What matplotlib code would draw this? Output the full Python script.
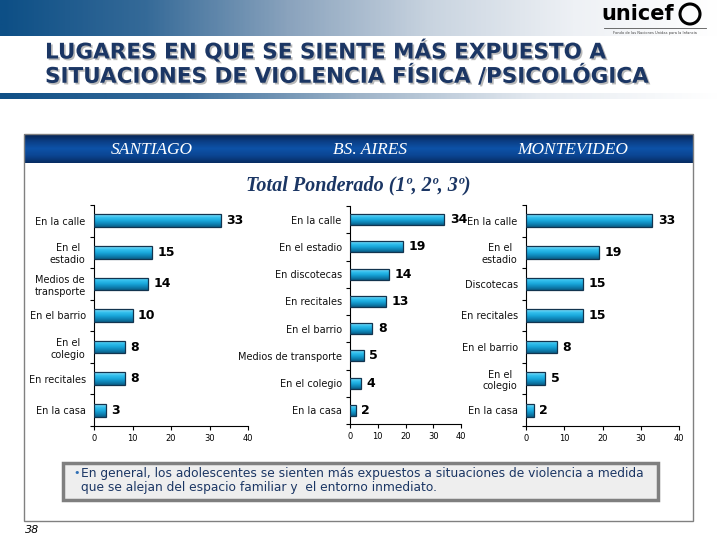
import numpy as np
import matplotlib
matplotlib.use("Agg")
import matplotlib.pyplot as plt
from matplotlib.colors import LinearSegmentedColormap
from matplotlib.patches import Rectangle, Circle
import matplotlib.patheffects as pe

W, H = 720, 540

santiago_labels = ["En la calle", "En el\nestadio", "Medios de\ntransporte", "En el barrio",
                   "En el\ncolegio", "En recitales", "En la casa"]
santiago_vals = [33, 15, 14, 10, 8, 8, 3]

bsas_labels = ["En la calle", "En el estadio", "En discotecas", "En recitales",
               "En el barrio", "Medios de transporte", "En el colegio", "En la casa"]
bsas_vals = [34, 19, 14, 13, 8, 5, 4, 2]

mvd_labels = ["En la calle", "En el\nestadio", "Discotecas", "En recitales",
              "En el barrio", "En el\ncolegio", "En la casa"]
mvd_vals = [33, 19, 15, 15, 8, 5, 2]

x_ticks = [0, 10, 20, 30, 40]

navy = "#1b3664"
fig = plt.figure(figsize=(7.2, 5.4), dpi=100)

# background layer in pixel coordinates
bg = fig.add_axes([0, 0, 1, 1])
bg.set_xlim(0, W)
bg.set_ylim(H, 0)
bg.axis("off")

band_cmap = LinearSegmentedColormap.from_list(
    "band", ["#0d4f86", "#356a98", "#8aa3bd", "#c9d4e0", "#eef1f5", "#ffffff"])
g = np.linspace(0, 1, 400).reshape(1, -1)
bg.imshow(g, extent=[0, W, 36, 0], cmap=band_cmap, aspect="auto")
line_cmap = LinearSegmentedColormap.from_list(
    "line", ["#0f4f86", "#3a6e9c", "#9fb4c9", "#e6ebf1", "#ffffff"])
bg.imshow(g, extent=[0, W, 99, 93], cmap=line_cmap, aspect="auto")

head_cmap = LinearSegmentedColormap.from_list(
    "head", ["#06224f", "#0b3f86", "#0d52a8", "#0b4592", "#072c62"])
bg.imshow(np.linspace(0, 1, 50).reshape(-1, 1), extent=[24, 693, 163, 134],
          cmap=head_cmap, aspect="auto")
bg.set_xlim(0, W)
bg.set_ylim(H, 0)

bg.add_patch(Rectangle((24, 134), 669, 387, fill=False, edgecolor="#808080", lw=1))
bg.add_patch(Rectangle((63, 463), 595, 37, facecolor="#eeeeee", edgecolor="#7f7f7f", lw=2.5))

# logo
bg.text(638, 14, "unicef", fontsize=15, fontweight="heavy", ha="center", va="center",
        color="black", family="DejaVu Sans")
bg.add_patch(Circle((690, 14), 10, fill=False, edgecolor="black", lw=2.2))
bg.plot([604, 706], [28, 28], color="#555555", lw=0.6)
bg.text(655, 33, "Fondo de las Naciones Unidas para la Infancia", fontsize=2.6,
        ha="center", va="center", color="#444444")

# title
shadow = [pe.withSimplePatchShadow(offset=(1.2, -1.2), shadow_rgbFace="#b8b8b8", alpha=1)]
for yy, t in [(51, "LUGARES EN QUE SE SIENTE MÁS EXPUESTO A"),
              (76, "SITUACIONES DE VIOLENCIA FÍSICA /PSICOLÓGICA")]:
    bg.text(45, yy, t, fontsize=15.5, fontweight="bold", color=navy, va="center",
            ha="left", path_effects=shadow)

for xx, t in [(152, "SANTIAGO"), (370, "BS. AIRES"), (573, "MONTEVIDEO")]:
    bg.text(xx, 150, t, fontsize=12.5, style="italic", color="white", ha="center",
            va="center", family="Liberation Serif")
bg.text(358, 185, "Total Ponderado (1º, 2º, 3º)", fontsize=14.5, style="italic",
        fontweight="bold", color=navy, ha="center", va="center", family="Liberation Serif")

bg.text(73, 473, "•", fontsize=8, color="#2f6fb5", ha="left", va="center")
bg.text(81, 473, "En general, los adolescentes se sienten más expuestos a situaciones de violencia a medida",
        fontsize=8.8, color=navy, ha="left", va="center", family="DejaVu Sans")
bg.text(81, 488, "que se alejan del espacio familiar y  el entorno inmediato.",
        fontsize=8.8, color=navy, ha="left", va="center", family="DejaVu Sans")
bg.text(25, 530, "38", fontsize=8, style="italic", color="black", ha="left", va="center")

bar_cmap = LinearSegmentedColormap.from_list(
    "bar", ["#8ee2fb", "#34c0ee", "#1aa9dc", "#0f86b8", "#0a5f88"])


def panel(x0, x1, ytop, ybot, labels, vals):
    ax = fig.add_axes([x0 / W, 1 - ybot / H, (x1 - x0) / W, (ybot - ytop) / H])
    ax.patch.set_alpha(0)
    n = len(vals)
    pos = np.arange(n)
    bars = ax.barh(pos, vals, height=0.4, color="#1aaee0", lw=0)
    for b in bars:
        im = ax.imshow(np.linspace(0, 1, 40).reshape(-1, 1),
                       extent=[b.get_x(), b.get_x() + b.get_width(),
                               b.get_y() + b.get_height(), b.get_y()],
                       cmap=bar_cmap, aspect="auto", zorder=3)
        im.set_clip_path(b)
    ax.barh(pos, vals, height=0.4, facecolor="none", edgecolor="#12344f", lw=0.9, zorder=4)
    for i, v in enumerate(vals):
        ax.annotate(str(v), (v, i), xytext=(4, 0), textcoords="offset points",
                    fontsize=9, fontweight="bold", va="center", ha="left", color="black")
    ax.set_xlim(0, 40)
    ax.set_ylim(n - 0.5, -0.5)
    ax.set_yticks(pos)
    ax.set_yticklabels(labels, fontsize=7, multialignment="center", color="#111111")
    ax.set_yticks(np.arange(n + 1) - 0.5, minor=True)
    ax.tick_params(axis="y", which="major", length=0, pad=6)
    ax.tick_params(axis="y", which="minor", length=3, width=0.8)
    ax.set_xticks(x_ticks)
    ax.tick_params(axis="x", labelsize=6, length=3, width=0.8, pad=3)
    for s in ["top", "right"]:
        ax.spines[s].set_visible(False)
    for s in ["left", "bottom"]:
        ax.spines[s].set_linewidth(0.8)
    return ax


panel(94, 248, 205, 426, santiago_labels, santiago_vals)
panel(350, 461, 206, 424, bsas_labels, bsas_vals)
panel(526, 679, 205, 426, mvd_labels, mvd_vals)

fig.savefig("out.png", dpi=100)
